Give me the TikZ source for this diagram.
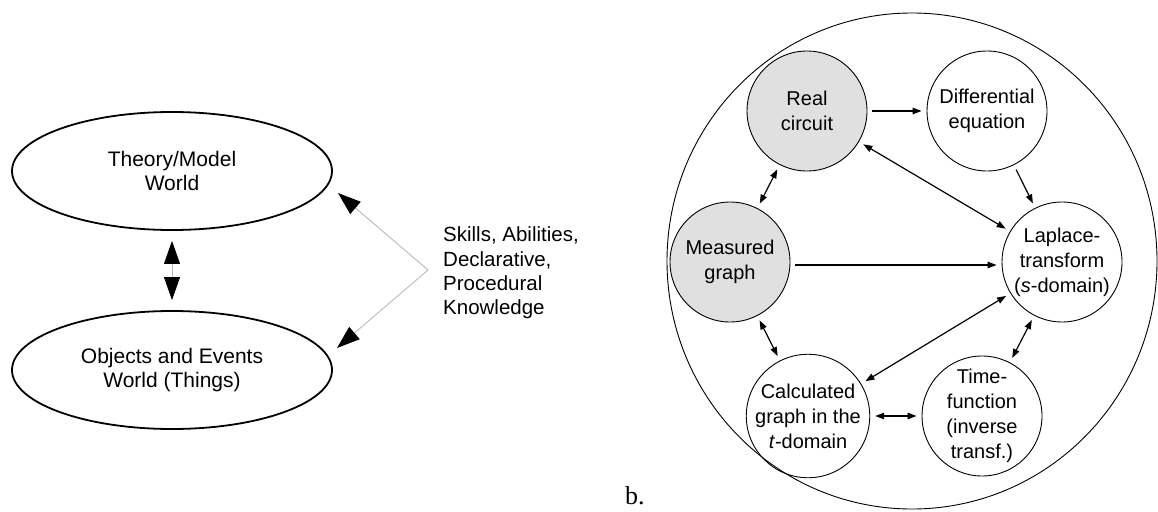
\documentclass[tikz,border=0pt]{standalone}
\usepackage{fontspec}
\setmainfont{Liberation Sans}
\newfontfamily\labelserif{Liberation Serif}
\usetikzlibrary{arrows.meta,shapes.geometric}
\begin{document}
\begin{tikzpicture}[x=1pt,y=-1pt,
  world/.style={ellipse,draw,line width=1.8pt,minimum width=320pt,minimum height=118pt,inner sep=0pt,align=center,font=\fontsize{21}{23.5}\selectfont},
  topic/.style={circle,draw,line width=0.9pt,minimum size=120pt,inner sep=0pt,align=center,font=\fontsize{20}{25}\selectfont},
  realtopic/.style={topic,fill=gray!24},
  tipsmall/.tip={Triangle[length=9pt,width=6.5pt]},
  tipbig/.tip={Triangle[length=23pt,width=16pt,color=black]},
  link/.style={line width=1.2pt,-tipsmall,shorten >=5pt,shorten <=5pt},
  dlink/.style={line width=1.2pt,tipsmall-tipsmall,shorten >=5pt,shorten <=5pt},
  bigarrow/.style={draw=gray!55,line width=0.9pt,-tipbig},
  bigdbl/.style={draw=gray!55,line width=0.9pt,tipbig-tipbig}
]
\useasboundingbox (0,0) rectangle (1158,511);

% ---------- part a ----------
\node[world] (T) at (172,171) {Theory/Model\\World};
\node[world] (O) at (172,370) {Objects and Events\\World (Things)};
\draw[bigdbl] ([yshift=-10pt]T.south) -- ([yshift=10pt]O.north);

\coordinate (J) at (428,270);
\coordinate (tA) at (338,193);
\coordinate (tB) at (337,348);
\draw[bigarrow] (J) -- (tA);
\draw[bigarrow] (J) -- (tB);

\node[anchor=west,align=left,inner sep=0pt,font=\fontsize{20.5}{24.3}\selectfont] (K) at (443,273)
  {Skills, Abilities,\\Declarative,\\Procedural\\Knowledge};

% ---------- part b ----------
\node[ellipse,draw,line width=0.9pt,minimum width=490pt,minimum height=496pt,inner sep=0pt] (outer) at (912,261) {};

\node[realtopic] (R) at (807,111) {Real\\circuit};
\node[topic] (D) at (987,111) {Differential\\equation};
\node[realtopic] (M) at (730,262) {Measured\\graph};
\node[topic] (L) at (1062,262) {Laplace-\\transform\\(\textit{s}-domain)};
\node[topic] (C) at (808,416) {Calculated\\graph in the\\\textit{t}-domain};
\node[topic] (F) at (982,416) {Time-\\function\\(inverse\\transf.)};

\draw[link] (R) -- (D);
\draw[link] (D) -- (L);
\draw[dlink] (R) -- (L);
\draw[dlink] (R) -- (M);
\draw[link] ([yshift=-3pt]M.east) -- ([yshift=-3pt]L.west);
\draw[dlink] (M) -- (C);
\draw[dlink] (C) -- (L);
\draw[dlink] (L) -- (F);
\draw[dlink] (C) -- (F);

\node[anchor=base west,inner sep=0pt,font=\labelserif\fontsize{26}{30}\selectfont] (lb) at (625,504) {b.};
\end{tikzpicture}
\end{document}
